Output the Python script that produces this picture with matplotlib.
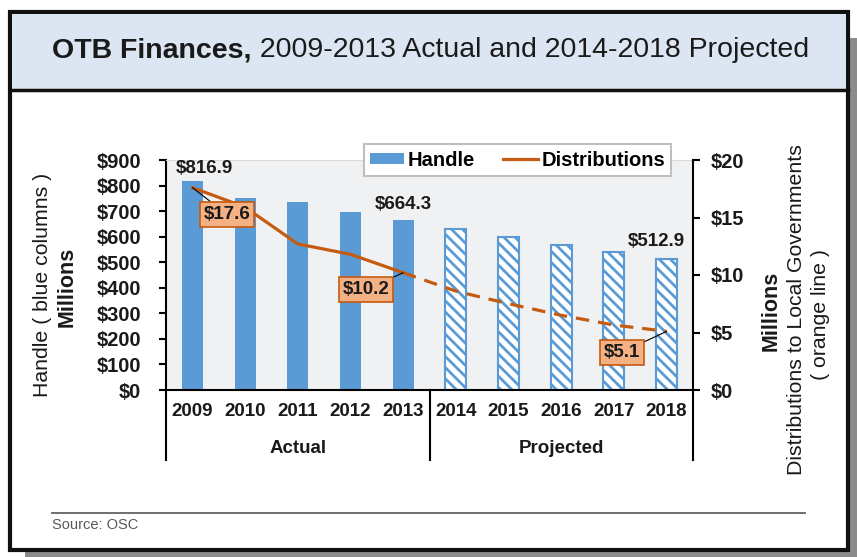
import matplotlib
matplotlib.use("Agg")
import matplotlib.pyplot as plt
import matplotlib.transforms as mtransforms
from matplotlib import font_manager
from matplotlib.patches import Rectangle, Patch
from matplotlib.lines import Line2D

# --- data ---
years = ["2009", "2010", "2011", "2012", "2013",
         "2014", "2015", "2016", "2017", "2018"]
handle = [816.9, 750, 737, 695, 664.3, 629, 597, 567, 539, 512.9]          # $ millions
distributions = [17.6, 15.9, 12.7, 11.8, 10.2, 8.6, 7.5, 6.5, 5.65, 5.1]  # $ millions
n_actual = 5
groups = ["Actual", "Projected"]
left_ticks = list(range(0, 901, 100))
right_ticks = list(range(0, 21, 5))

BLUE = "#5b9bd5"
ORANGE = "#c55a11"
BOXFILL = "#f4b183"
TXT = "#1a1a1a"
FONT = "Liberation Sans"

# the title in the reference is set in a condensed face
installed = {f.name for f in font_manager.fontManager.ttflist}
if "Liberation Sans Narrow" in installed:
    TITLE_FONT, TITLE_SIZE = "Liberation Sans Narrow", 24.5
else:
    TITLE_FONT, TITLE_SIZE = FONT, 20.5

plt.rcParams["font.family"] = [FONT, "DejaVu Sans"]
plt.rcParams["hatch.linewidth"] = 2.0

W, H = 857, 557
fig = plt.figure(figsize=(W / 100, H / 100), dpi=100)


def fx(x):
    return x / W


def fy(y):
    return 1 - y / H


# frame, shadow and title band
fig.add_artist(Rectangle((fx(25), fy(557)), fx(832), 519 / H, transform=fig.transFigure,
                         facecolor="#8c8c8c", edgecolor="none", zorder=-10))
fig.add_artist(Rectangle((fx(10), fy(550)), fx(838), 538 / H, transform=fig.transFigure,
                         facecolor="white", edgecolor="#111111", lw=3.0, zorder=-9))
fig.add_artist(Rectangle((fx(12), fy(89)), fx(834), 75 / H, transform=fig.transFigure,
                         facecolor="#dce6f2", edgecolor="none", zorder=-8))
fig.add_artist(Line2D([fx(10), fx(848)], [fy(89.5)] * 2, transform=fig.transFigure,
                      color="#111111", lw=2.5, zorder=-7))

# main axes
ax = fig.add_axes([fx(166), fy(390), (693 - 166) / W, 230 / H])
ax.set_facecolor("#f0f1f3")
x = list(range(len(years)))
ax.bar(x[:n_actual], handle[:n_actual], width=0.4, color=BLUE, zorder=2)
ax.bar(x[n_actual:], handle[n_actual:], width=0.4, facecolor="white",
       edgecolor=BLUE, hatch="\\\\\\", linewidth=1.5, zorder=2)
ax.set_xlim(-0.5, len(years) - 0.5)
ax.set_ylim(0, 900)
ax.set_yticks(left_ticks)
ax.set_yticklabels(["$%d" % v for v in left_ticks], fontsize=14.5,
                   fontweight="bold", color=TXT)
ax.set_xticks(x)
ax.set_xticklabels(years, fontsize=13.5, fontweight="bold", color=TXT)
ax.tick_params(axis="x", length=0, pad=9)
ax.tick_params(axis="y", length=5, width=1.5, pad=13, direction="out")
for side in ["left", "bottom"]:
    ax.spines[side].set_linewidth(1.5)
    ax.spines[side].set_color("black")
ax.spines["top"].set_color("#d9d9d9")
ax.spines["right"].set_visible(False)

# value labels on bars
bar_labels = {0: (12, 13), 4: (0, 16), 9: (-10, 17)}
for i, (dx, dy) in bar_labels.items():
    ax.annotate("$%.1f" % handle[i], xy=(i, handle[i]), xytext=(dx, dy),
                textcoords="offset pixels", ha="center", va="center",
                fontsize=13.5, fontweight="bold", color=TXT)

# category separators and group labels
trans = mtransforms.blended_transform_factory(ax.transData, ax.transAxes)
for xv in [-0.5, n_actual - 0.5, len(years) - 0.5]:
    ax.plot([xv, xv], [0, -0.304], transform=trans, color="black", lw=1.5,
            clip_on=False, zorder=5)
ax.text((n_actual - 1) / 2, -0.2565, groups[0], transform=trans, ha="center",
        va="center", fontsize=13.5, fontweight="bold", color=TXT)
ax.text((n_actual + len(years) - 1) / 2, -0.2565, groups[1], transform=trans,
        ha="center", va="center", fontsize=13.5, fontweight="bold", color=TXT)

# distributions line on the right axis
ax2 = ax.twinx()
ax2.set_ylim(0, 20)
ax2.plot(x[:n_actual], distributions[:n_actual], color=ORANGE, lw=2.3,
         solid_capstyle="round")
ax2.plot(x[n_actual - 1:], distributions[n_actual - 1:], color=ORANGE, lw=2.3,
         linestyle=(0, (4.2, 2.8)))
ax2.set_yticks(right_ticks)
ax2.set_yticklabels(["$%d" % v for v in right_ticks], fontsize=14.5,
                    fontweight="bold", color=TXT)
ax2.tick_params(axis="y", length=5, width=1.5, pad=8)
for side in ["left", "bottom", "top"]:
    ax2.spines[side].set_visible(False)
ax2.spines["right"].set_linewidth(1.5)
ax2.spines["right"].set_color("black")

box_labels = {0: (35, -27), 4: (-37, -17), 9: (-45, -21)}
for i, (dx, dy) in box_labels.items():
    ax2.annotate("$%.1f" % distributions[i], xy=(i, distributions[i]),
                 xytext=(dx, dy), textcoords="offset pixels", ha="center",
                 va="center", fontsize=13.5, fontweight="bold", color=TXT,
                 bbox=dict(boxstyle="square,pad=0.2", fc=BOXFILL, ec=ORANGE, lw=1.2),
                 arrowprops=dict(arrowstyle="-", color="black", lw=0.8,
                                 shrinkA=0, shrinkB=0))

# legend
leg_handles = [Patch(facecolor=BLUE, edgecolor="none", label="Handle"),
               Line2D([], [], color=ORANGE, lw=2.3, label="Distributions")]
leg = fig.legend(handles=leg_handles, ncol=2, loc="center",
                 bbox_to_anchor=(fx(517.5), fy(160)), frameon=True, fancybox=False,
                 framealpha=1, edgecolor="#bfbfbf",
                 prop=dict(family=FONT, weight="bold", size=14.5),
                 handlelength=1.7, handleheight=0.5, handletextpad=0.2,
                 columnspacing=1.4, borderpad=0.3)
leg.get_frame().set_linewidth(1.5)

# axis titles
fig.text(fx(43), fy(285), "Handle ( blue columns )", rotation=90, ha="center",
         va="center", fontsize=15.3, color=TXT)
fig.text(fx(67), fy(287), "Millions", rotation=90, ha="center", va="center",
         fontsize=15.5, fontweight="bold", color=TXT)
fig.text(fx(771), fy(311), "Millions", rotation=90, ha="center", va="center",
         fontsize=15.5, fontweight="bold", color=TXT)
fig.text(fx(797), fy(310), "Distributions to Local Governments", rotation=90,
         ha="center", va="center", fontsize=15.3, color=TXT)
fig.text(fx(821), fy(314), "( orange line )", rotation=90, ha="center",
         va="center", fontsize=15.3, color=TXT)

# title: bold lead-in followed by regular text
t1 = fig.text(fx(52), fy(50), "OTB Finances,", ha="left", va="center",
              fontsize=TITLE_SIZE, fontweight="bold", color=TXT, family=TITLE_FONT)
ax.annotate(" 2009-2013 Actual and 2014-2018 Projected", xy=(1, 0), xycoords=t1,
            ha="left", va="bottom", fontsize=TITLE_SIZE, color=TXT, family=TITLE_FONT)

# source note
fig.add_artist(Line2D([fx(52), fx(805)], [fy(513)] * 2, transform=fig.transFigure,
                      color="#6f6f6f", lw=1.4))
fig.text(fx(52), fy(525), "Source: OSC", ha="left", va="center", fontsize=10.5,
         color="#595959")

fig.savefig("out.png", dpi=100)
